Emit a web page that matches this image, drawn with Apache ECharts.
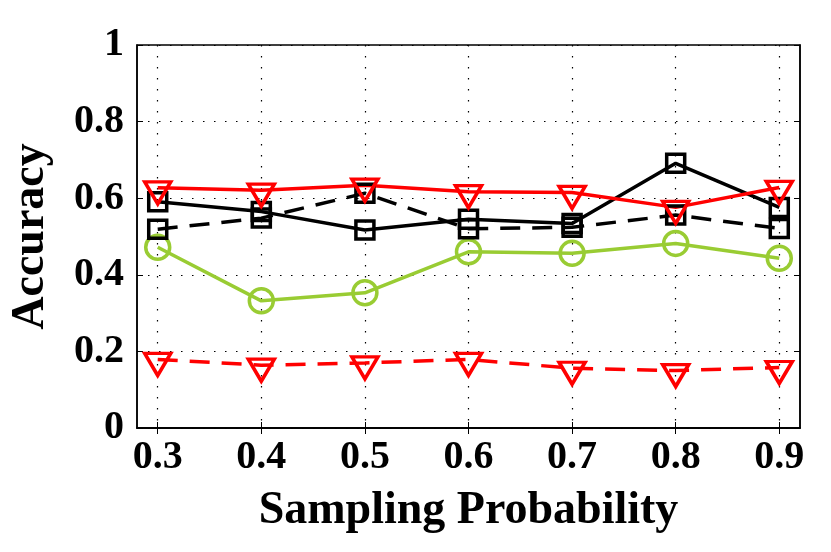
<!DOCTYPE html>
<html><head><meta charset="utf-8">
<script src="https://cdn.jsdelivr.net/npm/echarts@6/dist/echarts.min.js"></script>
<style>html,body{margin:0;padding:0;background:#fff}#c{width:831px;height:552px}</style>
</head><body><div id="c"></div>
<script>
const xValues = [0.3, 0.4, 0.5, 0.6, 0.7, 0.8, 0.9];
const xTicks = [0.3, 0.4, 0.5, 0.6, 0.7, 0.8, 0.9];
const redSolid = [0.627, 0.621, 0.634, 0.617, 0.615, 0.576, 0.628];
const blackSolid = [0.591, 0.565, 0.517, 0.545, 0.534, 0.691, 0.576];
const blackDashed = [0.519, 0.548, 0.613, 0.520, 0.524, 0.556, 0.521];
const greenSolid = [0.472, 0.332, 0.353, 0.460, 0.456, 0.482, 0.443];
const redDashed = [0.179, 0.164, 0.170, 0.179, 0.156, 0.150, 0.158];

const font = 'Liberation Serif';
const pair = arr => xValues.map((x, i) => [x, arr[i]]);
function mk(data, color, symbol, size, dashed, offset) {
  return {
    type: 'line', data: pair(data), symbol: symbol, symbolSize: size,
    symbolRotate: symbol === 'triangle' ? 180 : 0,
    symbolOffset: offset || [0, 0],
    showAllSymbol: true,
    itemStyle: { color: 'rgba(0,0,0,0)', borderColor: color, borderWidth: 3.5 },
    lineStyle: { color: color, width: 3.5, type: dashed ? [20, 12] : 'solid' },
    emphasis: { disabled: true }, animation: false, z: 3
  };
}
const chart = echarts.init(document.getElementById('c'), null, { renderer: 'canvas' });
const dotted = { show: true, lineStyle: { color: '#000', width: 1.2, type: [1.5, 9.5] } };
chart.setOption({
  animation: false,
  grid: { left: 136, top: 45, width: 664, height: 383, show: true, borderColor: '#000', borderWidth: 1.5, backgroundColor: 'transparent' },
  xAxis: [{
    type: 'value', min: 0.28, max: 0.92,
    name: 'Sampling Probability', nameLocation: 'middle', nameGap: 60,
    nameTextStyle: { fontFamily: font, fontWeight: 'bold', fontSize: 46, color: '#000' },
    axisLine: { show: true, lineStyle: { color: '#000', width: 1.5 } },
    axisTick: { show: true, inside: true, length: 6, customValues: xTicks, lineStyle: { color: '#000', width: 1 } },
    axisLabel: { customValues: xTicks, formatter: v => String(v), fontFamily: font, fontWeight: 'bold', fontSize: 40, color: '#000', margin: 10 },
    splitLine: dotted
  }, {
    type: 'value', min: 0.28, max: 0.92, position: 'top',
    axisLine: { show: true, lineStyle: { color: '#000', width: 1.5 } },
    axisTick: { show: true, inside: true, length: 6, customValues: xTicks, lineStyle: { color: '#000', width: 1 } },
    axisLabel: { show: false, customValues: xTicks }, splitLine: { show: false }
  }],
  yAxis: [{
    type: 'value', min: 0, max: 1, interval: 0.2,
    name: 'Accuracy', nameLocation: 'middle', nameGap: 83,
    nameTextStyle: { fontFamily: font, fontWeight: 'bold', fontSize: 46, color: '#000' },
    axisLine: { show: true, lineStyle: { color: '#000', width: 1.5 } },
    axisTick: { show: true, inside: true, length: 6, lineStyle: { color: '#000', width: 1 } },
    axisLabel: { formatter: v => String(+v.toFixed(1)), fontFamily: font, fontWeight: 'bold', fontSize: 40, color: '#000', margin: 13 },
    splitLine: dotted
  }, {
    type: 'value', min: 0, max: 1, interval: 0.2, position: 'right',
    axisLine: { show: true, lineStyle: { color: '#000', width: 1.5 } },
    axisTick: { show: true, inside: true, length: 6, lineStyle: { color: '#000', width: 1 } },
    axisLabel: { show: false }, splitLine: { show: false }
  }],
  series: [
    mk(redDashed, '#ff0000', 'triangle', [26, 22], true, [0, 5]),
    mk(greenSolid, '#99cc33', 'circle', 24, false),
    mk(blackDashed, '#000000', 'rect', 18, true),
    mk(blackSolid, '#000000', 'rect', 18, false),
    mk(redSolid, '#ff0000', 'triangle', [26, 22], false, [0, 5])
  ]
});
</script></body></html>
